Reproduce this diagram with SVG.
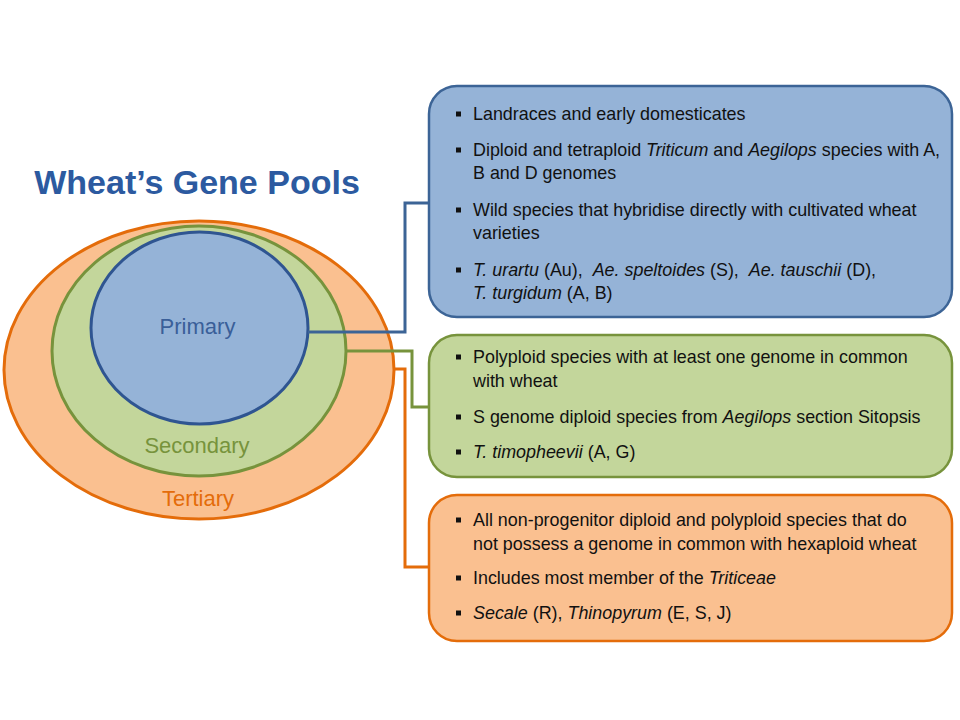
<svg xmlns="http://www.w3.org/2000/svg" width="960" height="720" viewBox="0 0 960 720">
<style>
.t{font-family:"Liberation Sans",Arial,sans-serif;font-size:17.9px;fill:#111}
.i{font-style:italic}
.lbl{font-family:"Liberation Sans",Arial,sans-serif;font-size:22px;text-anchor:middle}
.b{fill:#111}
.conn{fill:none;stroke-width:3}
</style>
<rect width="960" height="720" fill="#fff"/>
<text x="197" y="194" style="font-family:'Liberation Sans',Arial,sans-serif;font-size:34px;font-weight:bold;fill:#2C5AA0" text-anchor="middle">Wheat’s Gene Pools</text>
<g id="tertiary">
<ellipse cx="199" cy="370" rx="195" ry="149" fill="#FAC090" stroke="#E46C0A" stroke-width="3"/>
<text class="lbl" x="198" y="506" fill="#E46C0A">Tertiary</text>
</g>
<g id="secondary">
<ellipse cx="199" cy="351" rx="147" ry="125" fill="#C3D69B" stroke="#77933C" stroke-width="3"/>
<text class="lbl" x="197" y="453" fill="#77933C">Secondary</text>
</g>
<g id="primary">
<ellipse cx="199.5" cy="328" rx="108.5" ry="96" fill="#95B3D7" stroke="#2F5591" stroke-width="3"/>
<text class="lbl" x="197.5" y="334" fill="#3A5F99">Primary</text>
</g>
<g id="connectors">
<path class="conn" stroke="#3C6496" d="M308,332 H405 V203 H429"/>
<path class="conn" stroke="#77933C" d="M346,351 H412 V407 H429"/>
<path class="conn" stroke="#E46C0A" d="M393,369 H405 V567 H429"/>
</g>
<g id="box-primary">
<rect x="429" y="86" width="523" height="231" rx="28" fill="#95B3D7" stroke="#3C6496" stroke-width="2.5"/>
<rect class="b" x="456" y="111.5" width="5" height="5"/>
<text class="t" x="473" y="120">Landraces and early domesticates</text>
<rect class="b" x="456" y="147.5" width="5" height="5"/>
<text class="t" x="473" y="156">Diploid and tetraploid <tspan class="i">Triticum</tspan> and <tspan class="i">Aegilops</tspan> species with A,</text>
<text class="t" x="473" y="179">B and D genomes</text>
<rect class="b" x="456" y="207.5" width="5" height="5"/>
<text class="t" x="473" y="216">Wild species that hybridise directly with cultivated wheat</text>
<text class="t" x="473" y="239">varieties</text>
<rect class="b" x="456" y="267.5" width="5" height="5"/>
<text class="t" x="473" y="276" style="white-space:pre"><tspan class="i">T. urartu</tspan> (Au),  <tspan class="i">Ae. speltoides</tspan> (S),  <tspan class="i">Ae. tauschii</tspan> (D),</text>
<text class="t" x="473" y="299"><tspan class="i">T. turgidum</tspan> (A, B)</text>
</g>
<g id="box-secondary">
<rect x="429" y="335" width="523" height="142" rx="28" fill="#C3D69B" stroke="#77933C" stroke-width="2.5"/>
<rect class="b" x="456" y="354.5" width="5" height="5"/>
<text class="t" x="473" y="363">Polyploid species with at least one genome in common</text>
<text class="t" x="473" y="387">with wheat</text>
<rect class="b" x="456" y="414.5" width="5" height="5"/>
<text class="t" x="473" y="423">S genome diploid species from <tspan class="i">Aegilops</tspan> section Sitopsis</text>
<rect class="b" x="456" y="449.5" width="5" height="5"/>
<text class="t" x="473" y="458"><tspan class="i">T. timopheevii</tspan> (A, G)</text>
</g>
<g id="box-tertiary">
<rect x="429" y="495" width="523" height="146" rx="28" fill="#FAC090" stroke="#E46C0A" stroke-width="2.5"/>
<rect class="b" x="456" y="517.5" width="5" height="5"/>
<text class="t" x="473" y="526">All non-progenitor diploid and polyploid species that do</text>
<text class="t" x="473" y="550">not possess a genome in common with hexaploid wheat</text>
<rect class="b" x="456" y="575.5" width="5" height="5"/>
<text class="t" x="473" y="584">Includes most member of the <tspan class="i">Triticeae</tspan></text>
<rect class="b" x="456" y="610.5" width="5" height="5"/>
<text class="t" x="473" y="619"><tspan class="i">Secale</tspan> (R), <tspan class="i">Thinopyrum</tspan> (E, S, J)</text>
</g>
</svg>
